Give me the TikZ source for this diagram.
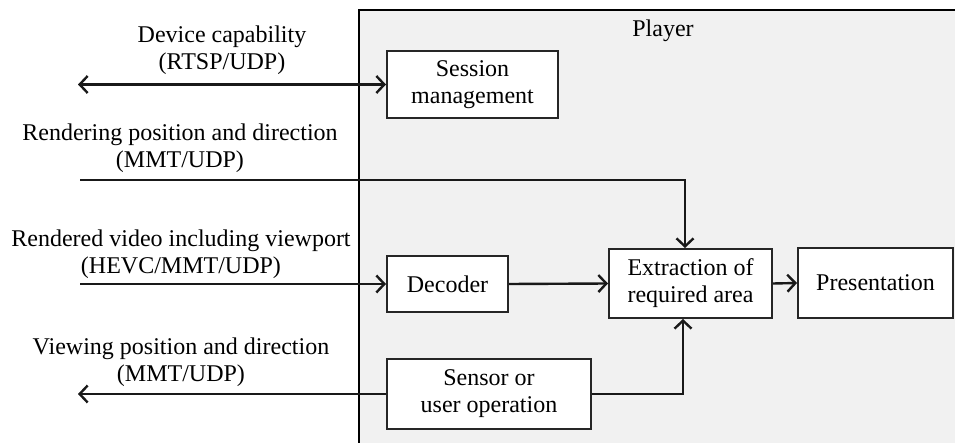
\documentclass[tikz,border=0pt]{standalone}
\usepackage{fontspec}
\setmainfont{Liberation Serif}
\usetikzlibrary{arrows.meta}
\definecolor{playerbg}{RGB}{241,241,241}
\tikzset{
  x=1pt, y=-1pt,
  txt/.style={font=\fontsize{24}{27}\selectfont, align=center, inner sep=0pt},
  blk/.style={draw=black!85, line width=2pt, fill=white, align=center,
              font=\fontsize{24}{27}\selectfont, inner sep=0pt},
  conn/.style={line width=2.4pt, draw=black!90},
  tip/.style={Straight Barb[length=8pt, width=17pt, line width=2.4pt]},
  arr/.style={conn, -{Straight Barb[length=8pt, width=17pt, line width=2.4pt]}},
  dblarr/.style={conn, {Straight Barb[length=8pt, width=17pt, line width=2.4pt]}-{Straight Barb[length=8pt, width=17pt, line width=2.4pt]}},
}
\begin{document}
\begin{tikzpicture}
  % canvas
  \useasboundingbox (0,0) rectangle (955,443);
  \fill[white] (0,0) rectangle (955,443);

  % player area (open to the right and bottom)
  \fill[playerbg] (359,10) rectangle (955,443);
  \draw[line width=2.8pt] (359,443) -- (359,10) -- (955,10);
  \node[txt] (player) at (663,31) {Player};

  % functional blocks
  \node[blk, minimum width=171pt, minimum height=67pt] (sess) at (472.5,84.5) {Session\\management};
  \node[blk, minimum width=121pt, minimum height=56pt] (dec) at (447.5,284) {Decoder};
  \node[blk, minimum width=163pt, minimum height=69pt] (extr) at (690.5,283.5) {Extraction of\\required area};
  \node[blk, minimum width=155pt, minimum height=70pt] (pres) at (875.5,283) {Presentation};
  \node[blk, minimum width=204pt, minimum height=70pt] (sens) at (489,394) {Sensor or\\user operation};

  % outer ends of the interface lines
  \coordinate (capL) at (78,84.5);
  \coordinate (rendL) at (80,180);
  \coordinate (vidL) at (80,284);
  \coordinate (viewL) at (78,394);

  % interface labels
  \node[txt] (capT) at (222,50) {Device capability\\(RTSP/UDP)};
  \node[txt] (rendT) at (180,148) {Rendering position and direction\\(MMT/UDP)};
  \node[txt] (vidT) at (181,254) {Rendered video including viewport\\(HEVC/MMT/UDP)};
  \node[txt] (viewT) at (181,362) {Viewing position and direction\\(MMT/UDP)};

  % connectors
  \draw[dblarr] (capL) -- (sess.west);
  \draw[arr] (rendL) -| ([xshift=-5.5pt]extr.north);
  \draw[arr] (vidL) -- (dec.west);
  \draw[arr] (dec.east) -- (extr.west);
  \draw[arr] (extr.east) -- (pres.west);
  \draw[arr] (sens.west) -- (viewL);
  \draw[arr] (sens.east) -| ([xshift=-7.5pt]extr.south);
\end{tikzpicture}
\end{document}
